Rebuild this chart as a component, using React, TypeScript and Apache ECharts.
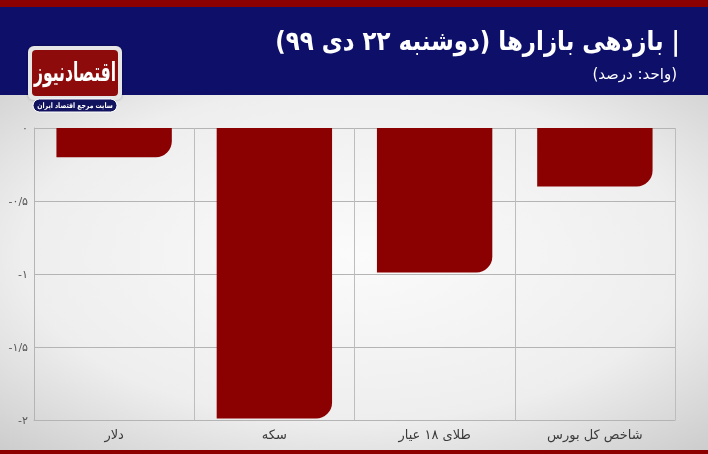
import React, { useEffect, useRef } from "react";
import * as echarts from "echarts";

const categories = ["دلار", "سکه", "طلای ۱۸ عیار", "شاخص کل بورس"];
const returns = [-0.2, -1.99, -0.99, -0.4];
const yTicks = [-2, -1.5, -1, -0.5, 0];
const yTickLabels = ["-۲", "-۱/۵", "-۱", "-۰/۵", "۰"];
const titleText = "| بازدهی بازارها (دوشنبه ۲۲ دی ۹۹)";
const subtitleText = "(واحد: درصد)";
const logoText = "اقتصادنیوز";
const logoTagline = "سایت مرجع اقتصاد ایران";

const RLE = "\u202B";
const PDF = "\u202C";
const FONT = "DejaVu Sans";

export default function App() {
  const ref = useRef<HTMLDivElement>(null);
  useEffect(() => {
    if (!ref.current) return;
    const chart = echarts.init(ref.current, undefined, { renderer: "svg" });
    const option: any = {
      animation: false,
      textStyle: { fontFamily: FONT },
      grid: { left: 34, right: 33, top: 128, bottom: 34, containLabel: false },
      graphic: [
        { type: "rect", z: -10, silent: true, shape: { x: 0, y: 0, width: 708, height: 7 }, style: { fill: "#8c0000" } },
        { type: "rect", z: -10, silent: true, shape: { x: 0, y: 7, width: 708, height: 88 }, style: { fill: "#0d0f69" } },
        {
          type: "rect", z: -10, silent: true,
          shape: { x: 0, y: 95, width: 708, height: 355 },
          style: {
            fill: new echarts.graphic.RadialGradient(0.5, 0.45, 0.78, [
              { offset: 0, color: "#fbfbfb" },
              { offset: 0.6, color: "#eeeeee" },
              { offset: 1, color: "#c8c8c8" },
            ]),
          },
        },
        { type: "rect", z: -10, silent: true, shape: { x: 0, y: 450, width: 708, height: 4 }, style: { fill: "#8c0000" } },
        {
          type: "text", z: 50, silent: true, x: 680, y: 41, scaleX: 0.85,
          style: { x: 0, y: 0, text: RLE + titleText + PDF, fill: "#ffffff", font: `bold 27px "${FONT}"`, align: "right", verticalAlign: "middle" },
        },
        {
          type: "text", z: 50, silent: true,
          style: { x: 677, y: 74, text: RLE + subtitleText + PDF, fill: "#ffffff", font: `15px "${FONT}"`, align: "right", verticalAlign: "middle" },
        },
        // logo
        { type: "rect", z: 50, silent: true, shape: { x: 28, y: 46, width: 94, height: 54, r: 6 }, style: { fill: "#e6e6e6", shadowBlur: 3, shadowColor: "rgba(0,0,0,0.3)" } },
        { type: "rect", z: 51, silent: true, shape: { x: 32, y: 50, width: 86, height: 46, r: 4 }, style: { fill: "#8e0b0b" } },
        {
          type: "text", z: 52, silent: true, x: 75, y: 72, scaleX: 0.6,
          style: { x: 0, y: 0, text: RLE + logoText + PDF, fill: "#ffffff", font: `bold 26px "${FONT}"`, align: "center", verticalAlign: "middle" },
        },
        { type: "rect", z: 51, silent: true, shape: { x: 33, y: 99, width: 84, height: 13, r: 6.5 }, style: { fill: "#12135e", stroke: "#ffffff", lineWidth: 1 } },
        {
          type: "text", z: 52, silent: true, x: 75, y: 105.5, scaleX: 0.82,
          style: { x: 0, y: 0, text: RLE + logoTagline + PDF, fill: "#ffffff", font: `bold 7.5px "${FONT}"`, align: "center", verticalAlign: "middle" },
        },
      ],
      xAxis: {
        type: "category",
        data: categories,
        position: "bottom",
        axisLine: { show: true, onZero: false, lineStyle: { color: "#b4b4b4", width: 1 } },
        axisTick: { show: false },
        axisLabel: {
          margin: 8,
          color: "#3a3a3a",
          fontSize: 13,
          fontFamily: FONT,
          formatter: (v: string) => RLE + v + PDF,
        },
        splitLine: { show: true, lineStyle: { color: "#bdbdbd", width: 1 } },
      },
      yAxis: {
        type: "value",
        min: -2,
        max: 0,
        interval: 0.5,
        axisLine: { show: true, lineStyle: { color: "#b4b4b4" } },
        axisTick: { show: false },
        axisLabel: {
          color: "#555555",
          fontSize: 11,
          margin: 6,
          fontFamily: FONT,
          formatter: (v: number) => {
            const i = yTicks.findIndex((t) => Math.abs(t - v) < 1e-6);
            return i >= 0 ? yTickLabels[i] : "";
          },
        },
        splitLine: { show: true, lineStyle: { color: "#b4b4b4", width: 1 } },
      },
      series: [
        {
          type: "bar",
          data: returns,
          barWidth: "72%",
          itemStyle: { color: "#8b0000", borderRadius: [0, 0, 16, 0] },
        },
      ],
    };
    chart.setOption(option);
    return () => chart.dispose();
  }, []);
  return (
    <div
      ref={ref}
      style={{ position: "fixed", left: 0, top: 0, width: 708, height: 454 }}
    />
  );
}
